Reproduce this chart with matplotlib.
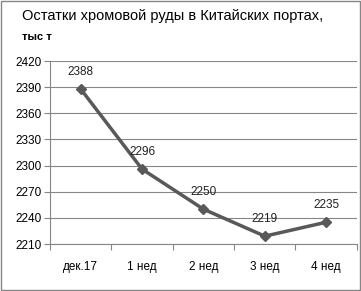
import matplotlib.pyplot as plt
from matplotlib.patches import Rectangle

categories = ["дек.17", "1 нед", "2 нед", "3 нед", "4 нед"]
values = [2388, 2296, 2250, 2219, 2235]
yticks = [2210, 2240, 2270, 2300, 2330, 2360, 2390, 2420]

plt.rcParams['font.family'] = ['Liberation Sans', 'DejaVu Sans']

fig = plt.figure(figsize=(3.61, 2.91), dpi=100)
fig.patches.append(Rectangle((0.002, 0.002), 0.994, 0.994, transform=fig.transFigure,
                             fill=False, edgecolor='#868686', linewidth=1))
ax = fig.add_axes([0.1385, 0.1615, 0.850, 0.6285])

x = list(range(len(categories)))
ax.plot(x, values, color='#595959', linewidth=2.5, marker='D', markersize=5.5, zorder=3)
for xi, v in zip(x, values):
    ax.annotate(str(v), (xi, v), xytext=(0, 8), textcoords='offset points',
                ha='center', va='bottom', fontsize=8.5, color='#222222')

ax.set_xlim(-0.5, len(categories) - 0.5)
ax.set_ylim(2210, 2420)
ax.set_yticks(yticks)
ax.set_yticklabels([str(t) for t in yticks], fontsize=8.5)
ax.yaxis.grid(True, color='#868686', linewidth=0.8)
ax.set_axisbelow(True)

ax.set_xticks([i - 0.5 for i in range(len(categories) + 1)])
ax.set_xticklabels([])
ax.set_xticks(x, minor=True)
ax.set_xticklabels(categories, minor=True, fontsize=8.5)
ax.tick_params(axis='x', which='minor', length=0, pad=12)
ax.tick_params(axis='x', which='major', length=4, color='#868686')
ax.tick_params(axis='y', length=4, color='#868686', pad=2)

for s in ['top', 'right']:
    ax.spines[s].set_visible(False)
for s in ['left', 'bottom']:
    ax.spines[s].set_color('#868686')

fig.text(0.061, 0.945, "Остатки хромовой руды в Китайских портах,", fontsize=10.5, va='center')
fig.text(0.061, 0.872, "тыс т", fontsize=8, fontweight='bold', va='center')

fig.savefig("out.png", dpi=100)
